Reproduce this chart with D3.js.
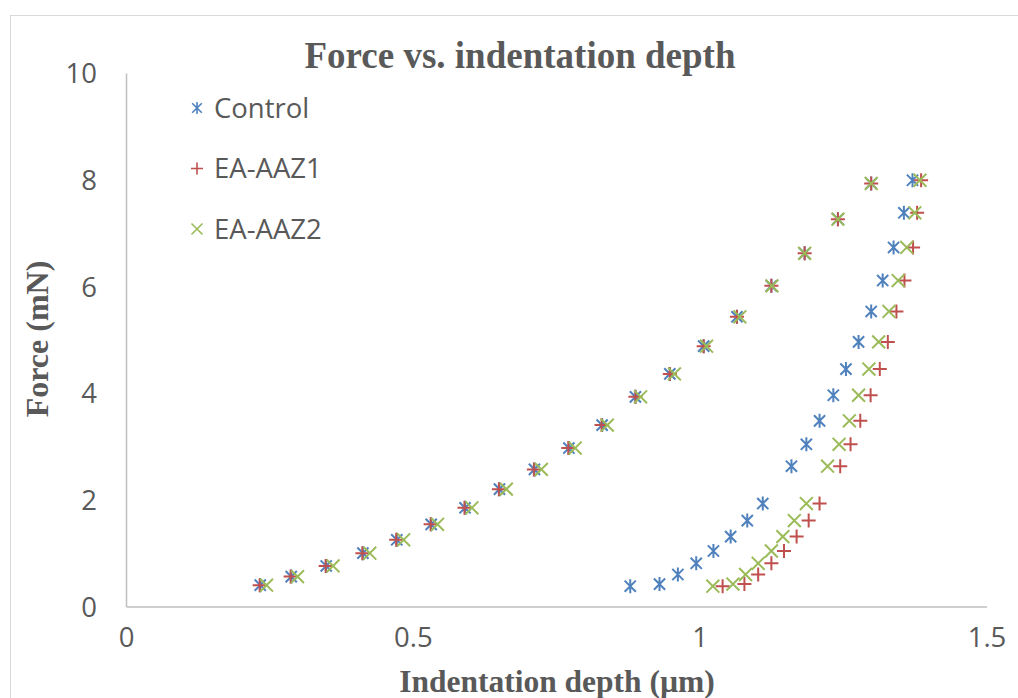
<!doctype html>
<html lang="en">
<head>
  <meta charset="utf-8">
  <title>Force vs. indentation depth</title>
  <script src="https://d3js.org/d3.v7.min.js"></script>
  <style>
    body { margin: 0; background: #fff; }
  </style>
</head>
<body>
  <div id='my_chart'></div>
<script>
  // forces shared by all three samples (mN)
  var force_load = [0.40, 0.56, 0.76, 1.00, 1.25, 1.54, 1.85, 2.20, 2.57, 2.97, 3.40, 3.93, 4.36, 4.88, 5.43, 6.01, 6.62, 7.26, 7.93];
  var force_unload = [7.99, 7.38, 6.73, 6.11, 5.53, 4.96, 4.45, 3.96, 3.48, 3.04, 2.63, 1.93, 1.61, 1.31, 1.04, 0.81, 0.60, 0.42, 0.38];

  // indentation depth (um)
  var control_load = [0.234, 0.288, 0.349, 0.413, 0.472, 0.532, 0.591, 0.651, 0.712, 0.772, 0.830, 0.888, 0.948, 1.007, 1.065, 1.125, 1.183, 1.241, 1.299];
  var control_unload = [1.371, 1.356, 1.338, 1.319, 1.299, 1.277, 1.255, 1.233, 1.209, 1.186, 1.160, 1.110, 1.083, 1.054, 1.024, 0.994, 0.962, 0.930, 0.879];
  var aaz1_load = [0.233, 0.287, 0.348, 0.412, 0.471, 0.531, 0.590, 0.650, 0.711, 0.771, 0.829, 0.888, 0.948, 1.007, 1.065, 1.125, 1.183, 1.241, 1.299];
  var aaz1_unload = [1.386, 1.379, 1.372, 1.357, 1.343, 1.328, 1.314, 1.298, 1.280, 1.263, 1.245, 1.209, 1.190, 1.169, 1.147, 1.125, 1.102, 1.078, 1.040];
  var aaz2_load = [0.245, 0.299, 0.361, 0.425, 0.484, 0.543, 0.603, 0.663, 0.724, 0.783, 0.839, 0.897, 0.956, 1.012, 1.070, 1.126, 1.183, 1.241, 1.299];
  var aaz2_unload = [1.384, 1.375, 1.361, 1.346, 1.330, 1.312, 1.295, 1.277, 1.261, 1.243, 1.223, 1.186, 1.165, 1.145, 1.125, 1.102, 1.080, 1.058, 1.023];

  var series_names = ['Control', 'EA-AAZ1', 'EA-AAZ2'];
  var x_ticks = [0, 0.5, 1, 1.5];
  var y_ticks = [0, 2, 4, 6, 8, 10];

  var width = 1018, height = 698;
  var m_left = 126, m_right = 986.5, m_top = 73, m_bottom = 606.5;
  var text_col = '#595959';
  var sans = "'Open Sans', 'Noto Sans', sans-serif";
  var serif = "'Liberation Serif', 'Times New Roman', serif";

  var series = [
    {name: series_names[0], color: '#4F81BD', shape: 'star', x: control_load.concat(control_unload)},
    {name: series_names[1], color: '#C0504D', shape: 'plus', x: aaz1_load.concat(aaz1_unload)},
    {name: series_names[2], color: '#9BBB59', shape: 'cross', x: aaz2_load.concat(aaz2_unload)}
  ];
  var all_force = force_load.concat(force_unload);

  var x = d3.scaleLinear().domain([0, 1.5]).range([m_left, m_right]);
  var y = d3.scaleLinear().domain([0, 10]).range([m_bottom, m_top]);

  var svg = d3.select('#my_chart').append('svg')
    .attr('width', width)
    .attr('height', height)
    .style('display', 'block');

  // chart border
  svg.append('rect')
    .attr('x', 10.5).attr('y', 15.5)
    .attr('width', width + 20).attr('height', height + 20)
    .attr('fill', '#fff')
    .attr('stroke', '#D9D9D9');

  function marker(shape, r) {
    var p = d3.path();
    if (shape == 'plus' || shape == 'star') {
      p.moveTo(0, -r); p.lineTo(0, r);
    }
    if (shape == 'plus') {
      p.moveTo(-r, 0); p.lineTo(r, 0);
    }
    if (shape == 'cross' || shape == 'star') {
      var k = shape == 'star' ? r * 0.8 : r * 0.92;
      p.moveTo(-k, -k); p.lineTo(k, k);
      p.moveTo(-k, k); p.lineTo(k, -k);
    }
    return p.toString();
  }

  // axes
  var x_axis = svg.append('g')
    .attr('transform', 'translate(0,' + m_bottom + ')')
    .call(d3.axisBottom(x).tickValues(x_ticks).tickSize(0).tickPadding(21).tickFormat(d3.format('')));
  var y_axis = svg.append('g')
    .attr('transform', 'translate(' + m_left + ',0)')
    .call(d3.axisLeft(y).tickValues(y_ticks).tickSize(0).tickPadding(29));
  [x_axis, y_axis].forEach(function(a) {
    a.select('.domain').attr('stroke', '#BFBFBF').attr('stroke-width', 1.5);
    a.selectAll('text')
      .attr('fill', text_col)
      .style('font-family', sans)
      .style('font-size', '27.5px');
  });
  y_axis.selectAll('text').attr('dy', '0.35em');

  // points
  series.forEach(function(s) {
    svg.append('g').selectAll('path')
      .data(s.x)
      .enter()
      .append('path')
        .attr('transform', (d, i) => 'translate(' + x(d) + ',' + y(all_force[i]) + ')')
        .attr('d', marker(s.shape, 7))
        .attr('fill', 'none')
        .attr('stroke', s.color)
        .attr('stroke-width', 2);
  });

  // legend
  var legend = svg.append('g')
    .selectAll('g')
    .data(series)
    .enter()
    .append('g')
      .attr('transform', (d, i) => 'translate(197,' + (108 + i * 60.5) + ')');
  legend.append('path')
    .attr('d', d => marker(d.shape, 6))
    .attr('fill', 'none')
    .attr('stroke', d => d.color)
    .attr('stroke-width', 1.6);
  legend.append('text')
    .attr('x', 17)
    .attr('dy', '0.35em')
    .attr('fill', text_col)
    .style('font-family', sans)
    .style('font-size', '27.5px')
    .text(d => d.name);

  // titles
  svg.append('text')
    .attr('x', 520).attr('y', 68)
    .attr('text-anchor', 'middle')
    .attr('fill', text_col)
    .style('font-family', serif)
    .style('font-weight', 'bold')
    .style('font-size', '37px')
    .text('Force vs. indentation depth');

  svg.append('text')
    .attr('x', 557).attr('y', 692)
    .attr('text-anchor', 'middle')
    .attr('fill', text_col)
    .style('font-family', serif)
    .style('font-weight', 'bold')
    .style('font-size', '31.5px')
    .text('Indentation depth (\u00b5m)');

  svg.append('text')
    .attr('transform', 'translate(48,339) rotate(-90)')
    .attr('text-anchor', 'middle')
    .attr('fill', text_col)
    .style('font-family', serif)
    .style('font-weight', 'bold')
    .style('font-size', '32px')
    .text('Force (mN)');
</script>
</body>
</html>
